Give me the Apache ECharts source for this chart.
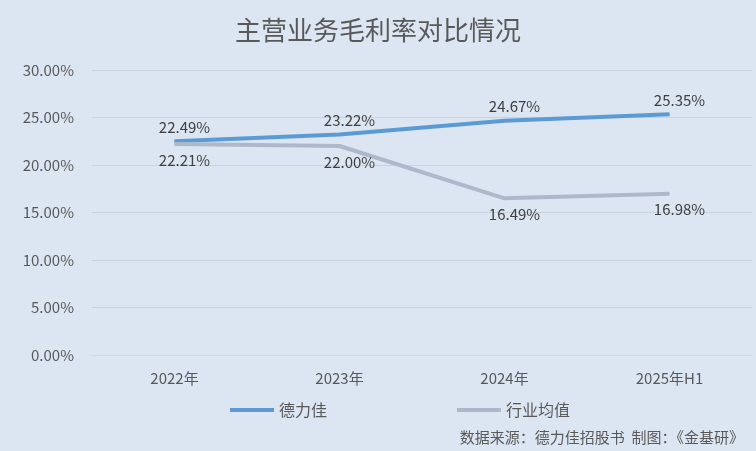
<!DOCTYPE html>
<html><head><meta charset="utf-8">
<script src="https://cdn.jsdelivr.net/npm/echarts@6/dist/echarts.min.js"></script>
<style>html,body{margin:0;padding:0;background:#dce6f2}#c{width:756px;height:451px}</style>
</head><body><div id="c"></div>
<script>
var categories = ['2022年', '2023年', '2024年', '2025年H1'];
var delijia = [22.49, 23.22, 24.67, 25.35];
var industry = [22.21, 22.00, 16.49, 16.98];

var chart = echarts.init(document.getElementById('c'));
function pct(p){ return p.value.toFixed(2) + '%'; }
chart.setOption({
  backgroundColor: '#dce6f2',
  title: {text: '主营业务毛利率对比情况', left: 'center', top: 12,
    textStyle: {fontFamily: 'Noto Sans CJK SC', fontSize: 26, fontWeight: 'normal', color: '#595959'}},
  grid: {left: 92, right: 4, top: 70, bottom: 96},
  legend: {bottom: 28, left: 225, itemGap: 130, itemWidth: 44, itemHeight: 4,
    icon: 'rect', textStyle: {fontFamily: 'Noto Sans CJK SC', fontSize: 16, color: '#595959'},
    data: ['德力佳', '行业均值']},
  graphic: [{type: 'text', right: 12, bottom: 6,
    style: {text: '数据来源：德力佳招股书  制图：《金基研》', font: '15px "Noto Sans CJK SC"', fill: '#595959'}}],
  xAxis: {type: 'category', data: categories,
    axisLine: {lineStyle: {color: '#d9d9d9'}}, axisTick: {show: false},
    axisLabel: {fontFamily: 'Noto Sans CJK SC', fontSize: 15, color: '#595959', margin: 16}},
  yAxis: {type: 'value', min: 0, max: 30, interval: 5,
    axisLabel: {formatter: function(v){return v.toFixed(2) + '%';}, fontFamily: 'Noto Sans CJK SC', fontSize: 15, color: '#595959', margin: 18},
    splitLine: {lineStyle: {color: '#c9d3df'}}},
  series: [
    {name: '德力佳', type: 'line', data: delijia, symbol: 'circle', symbolSize: 1, showSymbol: true,
      lineStyle: {width: 4, color: '#5b9bd5'}, itemStyle: {color: '#5b9bd5'},
      label: {show: true, position: 'top', distance: 6, offset: [10, 0], formatter: pct,
        fontFamily: 'Noto Sans CJK SC', fontSize: 15, color: '#404040'}},
    {name: '行业均值', type: 'line', data: industry, symbol: 'circle', symbolSize: 1, showSymbol: true,
      lineStyle: {width: 4, color: '#adb9ca'}, itemStyle: {color: '#adb9ca'},
      label: {show: true, position: 'bottom', distance: 8, offset: [10, 0], formatter: pct,
        fontFamily: 'Noto Sans CJK SC', fontSize: 15, color: '#404040'}}
  ]
});
</script></body></html>
